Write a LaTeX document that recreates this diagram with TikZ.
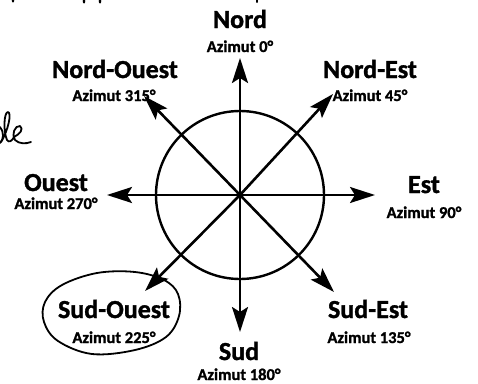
\documentclass[tikz,border=0pt]{standalone}
\usepackage{fontspec}
\setmainfont{Carlito}[BoldFeatures={FakeBold=1.3}]
\usetikzlibrary{arrows.meta}
\tikzset{
  dirtitle/.style={font=\fontsize{26}{28}\selectfont\bfseries, inner sep=0pt, anchor=base},
  dirsub/.style={font=\fontsize{16.5}{18}\selectfont\bfseries, inner sep=0pt, anchor=base},
  compassarrow/.style={line width=2.6pt, -{Stealth[length=25pt,width=16pt,inset=5pt]}},
  ink/.style={line width=1.8pt, line cap=round, line join=round}
}
\begin{document}
\begin{tikzpicture}[x=1pt,y=-1pt]
\useasboundingbox (0,0) rectangle (478,383);
\fill[white] (0,0) rectangle (478,383);
% center and tips
\coordinate (C) at (240,195);
\coordinate (tN) at (240,58);
\coordinate (tS) at (240,332);
\coordinate (tW) at (107,195);
\coordinate (tE) at (375,195);
\coordinate (tNW) at (144,96);
\coordinate (tNE) at (333,94);
\coordinate (tSW) at (145,291);
\coordinate (tSE) at (334,292);
% circle
\node[draw, circle, line width=2.4pt, minimum size=168pt, inner sep=0pt] (ring) at (C) {};
% arrows
\foreach \t in {tN,tS,tW,tE,tNW,tNE,tSW,tSE}{
  \draw[compassarrow] (C) -- (\t);
}
% labels
\node[dirtitle] (nord) at (240,28) {Nord};
\node[dirsub] (nordaz) at (240,52) {Azimut 0°};
\node[dirtitle] (no) at (115,78) {Nord-Ouest};
\node[dirsub] (noaz) at (114,101) {Azimut 315°};
\node[dirtitle] (ne) at (370,78) {Nord-Est};
\node[dirsub] (neaz) at (370,101) {Azimut 45°};
\node[dirtitle] (ouest) at (56,191) {Ouest};
\node[dirsub] (ouestaz) at (56,209) {Azimut 270°};
\node[dirtitle] (est) at (424,193) {Est};
\node[dirsub] (estaz) at (424,218) {Azimut 90°};
\node[dirtitle] (so) at (114,318) {Sud-Ouest};
\node[dirsub] (soaz) at (114,343) {Azimut 225°};
\node[dirtitle] (sud) at (239,360) {Sud};
\node[dirsub] (sudaz) at (239,380) {Azimut 180°};
\node[dirtitle] (se) at (368,318) {Sud-Est};
\node[dirsub] (seaz) at (369,343) {Azimut 135°};
% handwritten loop around Sud-Ouest
\draw[ink] plot[smooth cycle, tension=0.6] coordinates {(97,273) (62,285) (45,302) (44,322) (58,341) (92,354) (135,350) (166,337) (179,316) (178,294) (164,280) (135,272)};
% handwritten "le" at left
\draw[ink] (0,127) .. controls (4,131) and (4,140) .. (0,143);
\draw[ink] (1,142) .. controls (8,131) and (12,113) .. (8,112) .. controls (4,112) and (3,131) .. (7,140) .. controls (9,143) and (12,141) .. (14,137)
  .. controls (20,134) and (24,129) .. (20,126) .. controls (15,125) and (11,135) .. (15,140) .. controls (19,144) and (26,144) .. (31,142);
% cut-off marks at top edge
\fill (13,0) ellipse (1.3pt and 2.5pt);
\fill (84,1) ellipse (1.3pt and 2.5pt);
\fill (100,1) ellipse (1.3pt and 2.5pt);
\fill (257,1) ellipse (1pt and 2pt);
\end{tikzpicture}
\end{document}
